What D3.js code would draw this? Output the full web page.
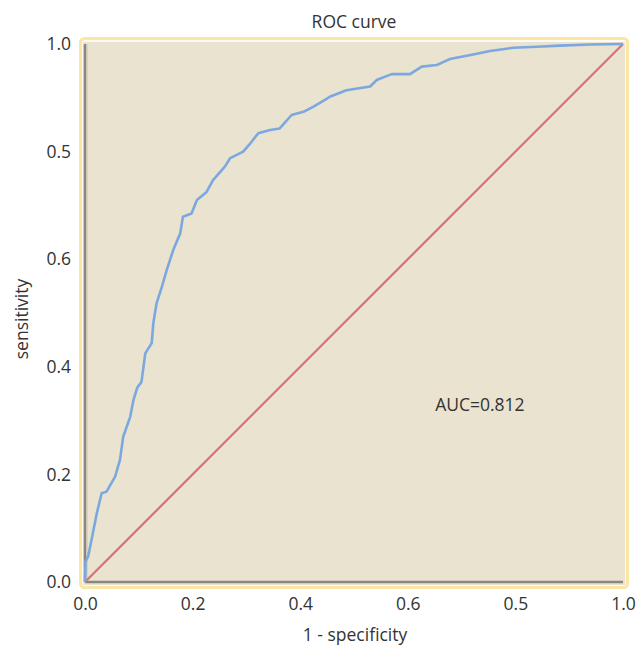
<!DOCTYPE html>
<html><head><meta charset="utf-8">
<script src="https://cdn.jsdelivr.net/npm/d3@7"></script>
<style>body{margin:0;background:#fff}svg{display:block}text{font-family:"Open Sans","Noto Sans",sans-serif;fill:#333}</style>
</head><body><svg id="c" width="636" height="648"></svg>
<script>
const fpr = [0,0.001,0.006,0.015,0.022,0.031,0.040,0.056,0.065,0.071,0.084,0.090,0.097,0.105,0.112,0.124,0.127,0.133,0.143,0.152,0.164,0.177,0.182,0.198,0.208,0.226,0.238,0.260,0.270,0.294,0.307,0.322,0.344,0.362,0.384,0.406,0.424,0.446,0.455,0.486,0.530,0.542,0.570,0.604,0.626,0.654,0.678,0.719,0.753,0.796,0.840,0.883,0.939,1];
const tpr = [0,0.038,0.048,0.093,0.128,0.165,0.168,0.196,0.227,0.270,0.307,0.338,0.361,0.372,0.425,0.444,0.481,0.518,0.549,0.580,0.617,0.648,0.679,0.685,0.710,0.725,0.747,0.772,0.788,0.800,0.815,0.834,0.840,0.843,0.868,0.874,0.883,0.896,0.902,0.914,0.921,0.933,0.944,0.944,0.958,0.961,0.972,0.980,0.987,0.993,0.995,0.997,0.999,1];
const tickVals = [0,0.2,0.4,0.6,0.8,1.0];
const tickLabels = ["0.0","0.2","0.4","0.6","0.5","1.0"];
const diag = [0,1];
const title = "ROC curve", xTitle = "1 - specificity", yTitle = "sensitivity", aucText = "AUC=0.812";

const svg = d3.select("#c");
const L=85, R=623, T=44, B=582;
const x = d3.scaleLinear().domain([0,1]).range([L,R]);
const y = d3.scaleLinear().domain([0,1]).range([B,T]);
const FS = "17.5px";

// panel
svg.append("rect").attr("x",80.5).attr("y",38.5).attr("width",547).attr("height",549).attr("rx",4)
  .attr("fill","#fdfbf3").attr("stroke","#fbe6a6").attr("stroke-width",3);
svg.append("rect").attr("x",83).attr("y",42).attr("width",542).attr("height",543).attr("fill","#e9e3cf");
// dark axis lines
svg.append("line").attr("x1",x(0)).attr("x2",x(0)).attr("y1",T).attr("y2",B).attr("stroke","#8a8780").attr("stroke-width",2.5);
svg.append("line").attr("x1",x(0)).attr("x2",R).attr("y1",B).attr("y2",B).attr("stroke","#8a8780").attr("stroke-width",2.5);
svg.append("line").attr("x1",x(0)+2).attr("x2",x(0)+2).attr("y1",T).attr("y2",B-2).attr("stroke","#c9c3b0").attr("stroke-width",1);

// diagonal
svg.append("path").datum(diag).attr("d",d3.line().x(d=>x(d)).y(d=>y(d)))
  .attr("stroke","#e06c78").attr("stroke-width",2.2).attr("fill","none");
// ROC
const pts = fpr.map((v,i)=>[v,tpr[i]]);
svg.append("path").datum(pts).attr("d",d3.line().x(d=>x(d[0])).y(d=>y(d[1])))
  .attr("stroke","#7ba8e0").attr("stroke-width",2.6).attr("fill","none").attr("stroke-linejoin","round");

// axes
const xa = d3.axisBottom(x).tickValues(tickVals).tickFormat((d,i)=>tickLabels[i]).tickSize(0).tickPadding(16);
svg.append("g").attr("transform",`translate(0,${B})`).call(xa).call(g=>g.select(".domain").remove())
  .selectAll("text").style("font-size",FS).attr("fill","#333");
const ya = d3.axisLeft(y).tickValues(tickVals).tickFormat((d,i)=>tickLabels[i]).tickSize(0).tickPadding(14);
svg.append("g").attr("transform",`translate(${L},0)`).call(ya).call(g=>g.select(".domain").remove())
  .selectAll("text").style("font-size",FS).attr("fill","#333");
svg.selectAll(".tick text").style("font-family",'"Open Sans","Noto Sans",sans-serif');

svg.append("text").attr("x",354).attr("y",28).attr("text-anchor","middle").style("font-size",FS).text(title);
svg.append("text").attr("x",355).attr("y",641).attr("text-anchor","middle").style("font-size",FS).text(xTitle);
svg.append("text").attr("transform","translate(28,319) rotate(-90)").attr("text-anchor","middle").style("font-size",FS).text(yTitle);
svg.append("text").attr("x",x(0.734)).attr("y",y(0.318)).attr("text-anchor","middle").style("font-size",FS).text(aucText);
</script></body></html>
